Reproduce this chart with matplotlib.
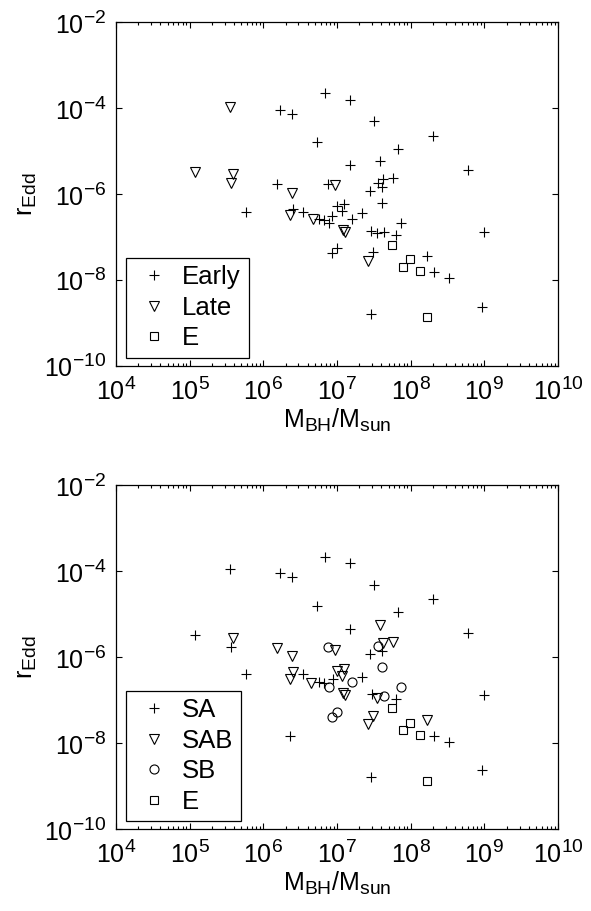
import matplotlib
matplotlib.use("Agg")
import matplotlib.pyplot as plt
import numpy as np
from matplotlib.ticker import LogLocator, FixedLocator, NullLocator, NullFormatter, LogFormatterSciNotation

try:
    import matplotlib._mathtext as _mt
    _mt.SHRINK_FACTOR = 0.77
except Exception:
    pass

plt.rcParams['font.family'] = ['Liberation Sans', 'DejaVu Sans']
plt.rcParams['mathtext.fontset'] = 'custom'
plt.rcParams['mathtext.rm'] = 'Liberation Sans'
plt.rcParams['mathtext.it'] = 'Liberation Sans:italic'
plt.rcParams['mathtext.bf'] = 'Liberation Sans:bold'

# ---------------- top panel data ----------------
top_early_m = [6.93e6, 1.50e7, 1.68e6, 2.45e6, 3.21e7, 5.40e6, 1.99e8, 6.79e7, 1.50e7, 3.87e7,
               6.05e8, 5.75e7, 4.17e7, 3.64e7, 1.55e6, 7.62e6, 2.80e7, 4.04e7, 4.04e7, 9.91e6,
               1.24e7, 1.16e7, 8.47e6, 2.20e7, 1.61e7, 7.32e7, 2.86e7, 3.46e7, 4.35e7, 6.27e7,
               9.98e8, 9.91e6, 8.47e6, 3.11e7, 1.67e8, 2.09e8, 3.31e8, 9.20e8, 2.89e7, 5.82e5,
               2.55e6, 3.42e6, 5.75e6, 6.65e6, 7.85e6]
top_early_r = [2.27e-4, 1.56e-4, 9.1e-5, 7.5e-5, 4.99e-5, 1.62e-5, 2.31e-5, 1.15e-5, 4.72e-6, 6.04e-6,
               3.61e-6, 2.43e-6, 2.23e-6, 1.80e-6, 1.74e-6, 1.74e-6, 1.21e-6, 1.46e-6, 6.18e-7, 5.35e-7,
               5.85e-7, 4.09e-7, 3.13e-7, 3.61e-7, 2.67e-7, 2.12e-7, 1.40e-7, 1.28e-7, 1.31e-7, 1.13e-7,
               1.35e-7, 5.55e-8, 4.25e-8, 4.63e-8, 3.67e-8, 1.53e-8, 1.13e-8, 2.39e-9, 1.64e-9, 3.94e-7,
               4.48e-7, 3.94e-7, 2.71e-7, 2.57e-7, 2.19e-7]
top_late_m = [3.52e5, 1.19e5, 3.91e5, 3.61e5, 2.45e6, 9.40e6, 2.30e6, 4.68e6, 1.19e7, 1.28e7, 2.66e7]
top_late_r = [1.05e-4, 3.25e-6, 2.96e-6, 1.80e-6, 1.09e-6, 1.60e-6, 3.30e-7, 2.62e-7, 1.44e-7, 1.33e-7, 2.81e-8]
top_e_m = [5.52e7, 9.89e7, 7.80e7, 1.34e8, 1.68e8]
top_e_r = [6.62e-8, 3.08e-8, 2.07e-8, 1.65e-8, 1.38e-9]

# ---------------- bottom panel data ----------------
bot_sa_m = [3.52e5, 1.68e6, 2.45e6, 6.93e6, 5.40e6, 1.50e7, 3.21e7, 1.99e8, 6.79e7, 1.50e7,
            6.05e8, 1.19e5, 3.61e5, 5.82e5, 3.42e6, 5.75e6, 6.65e6, 8.91e6, 2.30e6, 2.80e7,
            4.04e7, 2.20e7, 2.96e7, 6.27e7, 9.98e8, 2.09e8, 3.31e8, 9.20e8, 2.89e7]
bot_sa_r = [1.11e-4, 8.98e-5, 7.36e-5, 2.19e-4, 1.58e-5, 1.53e-4, 4.88e-5, 2.27e-5, 1.13e-5, 4.63e-6,
            3.61e-6, 3.30e-6, 1.77e-6, 4.03e-7, 4.03e-7, 2.71e-7, 2.57e-7, 3.08e-7, 1.48e-8, 1.19e-6,
            1.42e-6, 3.43e-7, 1.38e-7, 1.07e-7, 1.33e-7, 1.48e-8, 1.09e-8, 2.36e-9, 1.64e-9]
bot_sab_m = [3.84e7, 3.91e5, 1.55e6, 2.45e6, 9.40e6, 4.17e7, 5.70e7, 2.55e6, 2.30e6, 4.40e6,
             9.91e6, 1.24e7, 1.16e7, 1.19e7, 1.28e7, 3.46e7, 3.11e7, 2.66e7, 1.67e8]
bot_sab_r = [5.64e-6, 2.77e-6, 1.62e-6, 1.09e-6, 1.48e-6, 2.12e-6, 2.23e-6, 4.48e-7, 3.13e-7, 2.48e-7,
             4.80e-7, 5.35e-7, 3.73e-7, 1.44e-7, 1.33e-7, 1.11e-7, 4.38e-8, 2.77e-8, 3.48e-8]
bot_sb_m = [7.62e6, 3.64e7, 4.04e7, 7.78e6, 1.58e7, 7.32e7, 4.35e7, 9.91e6, 8.47e6]
bot_sb_r = [1.71e-6, 1.83e-6, 6.04e-7, 2.07e-7, 2.71e-7, 2.07e-7, 1.28e-7, 5.26e-8, 4.03e-8]
bot_e_m = [5.52e7, 9.89e7, 7.80e7, 1.34e8, 1.68e8]
bot_e_r = [6.52e-8, 3.01e-8, 2.04e-8, 1.56e-8, 1.35e-9]

xlim = (1e4, 1e10)
ylim = (1e-10, 1e-2)
ytick_vals = [1e-10, 1e-8, 1e-6, 1e-4, 1e-2]

TICK_FS = 18
LEG_FS = 18.5

fig = plt.figure(figsize=(5.91, 9.11), dpi=100)
ax1 = fig.add_axes([0.1963, 0.5982, 0.7479, 0.3773])
ax2 = fig.add_axes([0.1963, 0.0897, 0.7479, 0.3776])

mk = dict(linestyle='none', color='black', markerfacecolor='none', markeredgewidth=0.8)

def style(ax):
    ax.set_xscale('log')
    ax.set_yscale('log')
    ax.set_xlim(*xlim)
    ax.set_ylim(*ylim)
    ax.xaxis.set_major_locator(LogLocator(base=10, numticks=20))
    ax.xaxis.set_minor_locator(LogLocator(base=10, subs=np.arange(2, 10), numticks=20))
    ax.xaxis.set_minor_formatter(NullFormatter())
    ax.yaxis.set_major_locator(FixedLocator(ytick_vals))
    ax.yaxis.set_major_formatter(LogFormatterSciNotation())
    ax.yaxis.set_minor_locator(NullLocator())
    ax.tick_params(which='both', direction='in', top=True, right=True, labelsize=TICK_FS, width=0.8)
    ax.tick_params(which='major', length=4.5)
    ax.tick_params(which='minor', length=2.5)
    ax.tick_params(axis='x', pad=8)
    ax.tick_params(axis='y', pad=7)
    for s in ax.spines.values():
        s.set_linewidth(0.9)
    ax.set_xlabel(r'$\mathregular{M_{BH}/M_{sun}}$', fontsize=TICK_FS, labelpad=1.5)
    ax.set_ylabel(r'$\mathregular{r_{Edd}}$', fontsize=TICK_FS, labelpad=4)

def legend(ax):
    leg = ax.legend(loc='lower left', bbox_to_anchor=(0.0226, 0.0233), borderaxespad=0,
                    fontsize=LEG_FS, numpoints=1, handlelength=1.6, handletextpad=0.29,
                    borderpad=0.3, labelspacing=0.25, fancybox=False, framealpha=1,
                    edgecolor='black')
    leg.get_frame().set_linewidth(0.9)
    return leg

# top panel
ax1.plot(top_early_m, top_early_r, marker='+', markersize=7, label='Early', **mk)
ax1.plot(top_late_m, top_late_r, marker='v', markersize=7.5, label='Late', **mk)
ax1.plot(top_e_m, top_e_r, marker='s', markersize=5.3, label='E', **mk)
style(ax1)
legend(ax1)

# bottom panel
ax2.plot(bot_sa_m, bot_sa_r, marker='+', markersize=7, label='SA', **mk)
ax2.plot(bot_sab_m, bot_sab_r, marker='v', markersize=7.5, label='SAB', **mk)
ax2.plot(bot_sb_m, bot_sb_r, marker='o', markersize=6.5, label='SB', **mk)
ax2.plot(bot_e_m, bot_e_r, marker='s', markersize=5.3, label='E', **mk)
style(ax2)
legend(ax2)

fig.savefig('out.png', dpi=100, facecolor='white')
